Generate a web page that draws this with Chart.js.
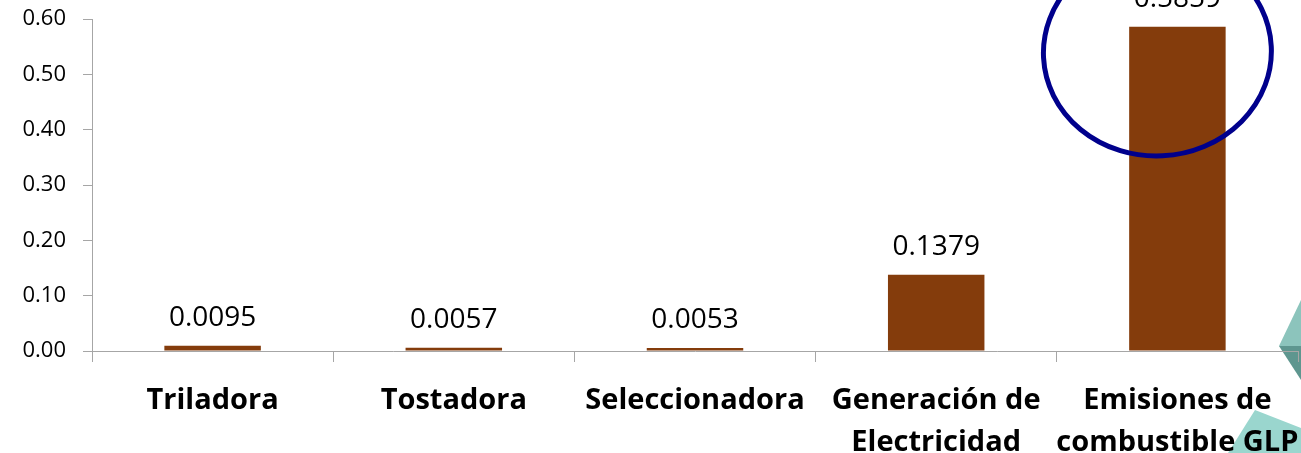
<!DOCTYPE html>
<html lang="es">
<head>
<meta charset="utf-8">
<title>Emisiones por proceso</title>
<script src="https://cdn.jsdelivr.net/npm/chart.js@4.4.1/dist/chart.umd.min.js"></script>
<style>
    html, body { margin: 0; padding: 0; background: #fff; }
    #wrap { width: 1301px; height: 453px; position: relative; }
</style>
</head>
<body>
<div id="wrap"><canvas id="chart-emisiones"></canvas></div>
<script>
// Chart data
const categories = [
    ['Triladora'],
    ['Tostadora'],
    ['Seleccionadora'],
    ['Generación de', 'Electricidad'],
    ['Emisiones de', 'combustible GLP']
];
const values = [0.0095, 0.0057, 0.0053, 0.1379, 0.5859];
const yMin = 0;
const yMax = 0.6;
const yStep = 0.1;

const AXIS_GRAY = '#A6A6A6';
const BAR_BROWN = '#843C0C';

// Value labels above each bar
const valueLabelPlugin = {
    id: 'valueLabels',
    afterDatasetsDraw(chart) {
        const ctx = chart.ctx;
        const meta = chart.getDatasetMeta(0);
        ctx.save();
        ctx.font = '28px "Open Sans"';
        ctx.fillStyle = '#000';
        ctx.textAlign = 'center';
        ctx.textBaseline = 'alphabetic';
        meta.data.forEach((bar, i) => {
            ctx.fillText(values[i].toFixed(4), bar.x, bar.y - 20);
        });
        ctx.restore();
    }
};

// Background decoration (teal shapes in the bottom-right corner)
const decorationPlugin = {
    id: 'decoration',
    beforeDraw(chart) {
        const ctx = chart.ctx;
        ctx.save();
        ctx.fillStyle = '#8CC4BC';
        ctx.beginPath();
        ctx.moveTo(1279, 346); ctx.lineTo(1301, 300); ctx.lineTo(1301, 346);
        ctx.closePath(); ctx.fill();
        ctx.fillStyle = '#5E968F';
        ctx.beginPath();
        ctx.moveTo(1279, 346); ctx.lineTo(1301, 346); ctx.lineTo(1301, 380);
        ctx.closePath(); ctx.fill();
        ctx.fillStyle = '#9AD6CE';
        ctx.beginPath();
        ctx.moveTo(1255, 410); ctx.lineTo(1228, 453); ctx.lineTo(1301, 453); ctx.lineTo(1301, 428);
        ctx.closePath(); ctx.fill();
        ctx.restore();
    }
};

// Hand-drawn highlight ellipse around the last bar
const highlightPlugin = {
    id: 'highlight',
    afterDraw(chart) {
        const meta = chart.getDatasetMeta(0);
        const last = meta.data[meta.data.length - 1];
        const ctx = chart.ctx;
        ctx.save();
        ctx.strokeStyle = '#00008C';
        ctx.lineWidth = 5;
        ctx.beginPath();
        ctx.ellipse(last.x - 20, 52, 114, 104, -0.05, 0, Math.PI * 2);
        ctx.stroke();
        ctx.restore();
    }
};

const ctx = document.getElementById('chart-emisiones').getContext('2d');
const chart = new Chart(ctx, {
    type: 'bar',
    data: {
        labels: categories,
        datasets: [{
            data: values,
            backgroundColor: BAR_BROWN,
            barPercentage: 0.4,
            categoryPercentage: 1.0
        }]
    },
    options: {
        responsive: true,
        maintainAspectRatio: false,
        animation: false,
        layout: { padding: { top: 19, right: 3, left: 0, bottom: 0 } },
        plugins: {
            legend: { display: false },
            tooltip: { enabled: false }
        },
        scales: {
            x: {
                offset: true,
                afterFit(scale) {
                    scale.height = 102;
                    // labels may overflow the edges like in the original
                    scale.paddingLeft = 0;
                    scale.paddingRight = 0;
                },
                grid: {
                    offset: true,
                    drawOnChartArea: false,
                    drawTicks: true,
                    tickLength: 11,
                    color: AXIS_GRAY
                },
                border: { color: AXIS_GRAY, width: 1 },
                ticks: {
                    autoSkip: false,
                    maxRotation: 0,
                    minRotation: 0,
                    padding: 18,
                    color: '#000',
                    font: { family: '"Open Sans"', size: 29, weight: 'bold', lineHeight: 1.45 }
                }
            },
            y: {
                min: yMin,
                max: yMax,
                afterFit(scale) {
                    scale.width = 92;
                    scale.paddingTop = 0;
                    scale.paddingBottom = 0;
                },
                grid: {
                    drawOnChartArea: false,
                    drawTicks: true,
                    tickLength: 9,
                    color: AXIS_GRAY
                },
                border: { color: AXIS_GRAY, width: 1 },
                ticks: {
                    stepSize: yStep,
                    padding: 17,
                    color: '#000',
                    font: { family: '"Open Sans"', size: 22 },
                    callback: v => v.toFixed(2)
                }
            }
        }
    },
    plugins: [decorationPlugin, valueLabelPlugin, highlightPlugin]
});
</script>
</body>
</html>
